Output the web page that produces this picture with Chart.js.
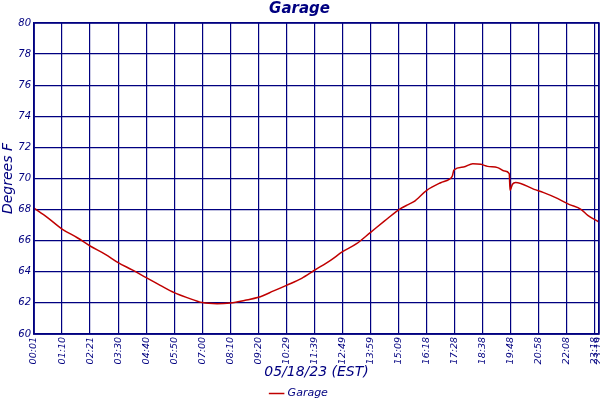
<!DOCTYPE html>
<html>
<head>
<meta charset="utf-8">
<script src="https://cdn.jsdelivr.net/npm/chart.js@4"></script>
<style>
    html, body { margin: 0; padding: 0; background: #fff; }
    #wrap { width: 600px; height: 400px; }
</style>
</head>
<body>
<div id="wrap"><canvas id="chart" width="600" height="400"></canvas></div>
<script>
// sample index (roughly minutes since 00:01) and temperature
const sampleIndex = [
    0, 33, 70, 108, 140, 178, 210, 245, 280, 315, 350, 382, 420, 457, 490,
    527, 560, 598, 630, 668, 700, 740, 770, 805, 840, 875, 910, 935, 948, 980,
    1015, 1036, 1044, 1048, 1072, 1095, 1115, 1132, 1157, 1174, 1186, 1188, 1194, 1202,
    1248, 1272, 1306, 1335, 1365, 1382, 1410
];
const garageTemps = [
    68.1, 67.5, 66.75, 66.19, 65.66, 65.12, 64.59, 64.12, 63.62, 63.13, 62.66, 62.34, 62.02, 61.95, 62.0,
    62.17, 62.36, 62.77, 63.13, 63.58, 64.1, 64.74, 65.29, 65.81, 66.54, 67.27, 67.99, 68.34, 68.51, 69.24,
    69.73, 69.95, 70.16, 70.55, 70.74, 70.95, 70.91, 70.78, 70.7, 70.48, 70.31, 69.24, 69.63, 69.75,
    69.3, 69.09, 68.72, 68.34, 68.02, 67.63, 67.2
];

// x tick positions and their time labels
const tickIndex = [0, 70, 140, 210, 280, 350, 420, 490, 560, 630, 700, 770, 840, 910, 980, 1050, 1120, 1190, 1260, 1330, 1400, 1410];
const tickLabels = ['00:01', '01:10', '02:21', '03:30', '04:40', '05:50', '07:00', '08:10', '09:20', '10:29', '11:39',
    '12:49', '13:59', '15:09', '16:18', '17:28', '18:38', '19:48', '20:58', '22:08', '23:18', '23:19'];

const navy = '#000080';
const lineRed = '#c00000';
const fontFamily = '"DejaVu Sans", sans-serif';

const points = sampleIndex.map((x, i) => ({ x: x, y: garageTemps[i] }));

const ctx = document.getElementById('chart').getContext('2d');
new Chart(ctx, {
    type: 'line',
    data: {
        datasets: [{
            label: 'Garage',
            data: points,
            borderColor: lineRed,
            backgroundColor: lineRed,
            borderWidth: 1.5,
            pointRadius: 0,
            cubicInterpolationMode: 'monotone',
            fill: false
        }]
    },
    options: {
        responsive: false,
        animation: false,
        layout: { padding: { left: 0, right: 1, top: 0, bottom: -9 } },
        plugins: {
            title: {
                display: true,
                text: 'Garage',
                color: navy,
                font: { family: fontFamily, size: 15, style: 'italic' },
                padding: { top: 0, bottom: 5 }
            },
            legend: {
                position: 'bottom',
                labels: {
                    color: navy,
                    font: { family: fontFamily, size: 11, style: 'italic' },
                    usePointStyle: true,
                    pointStyle: 'line',
                    boxWidth: 16,
                    padding: 2
                }
            },
            tooltip: { enabled: false }
        },
        scales: {
            x: {
                type: 'linear',
                min: 0,
                max: 1410,
                afterBuildTicks: (axis) => {
                    axis.ticks = tickIndex.map(v => ({ value: v }));
                },
                afterFit: (scale) => {
                    scale.paddingLeft = 0;
                    scale.paddingRight = 0;
                    scale.height = 52;
                },
                ticks: {
                    color: navy,
                    font: { family: fontFamily, size: 9.5, style: 'italic' },
                    minRotation: 90,
                    maxRotation: 90,
                    autoSkip: false,
                    padding: 3,
                    callback: (value) => {
                        const i = tickIndex.indexOf(value);
                        return i >= 0 ? tickLabels[i] : '';
                    }
                },
                grid: { color: navy, lineWidth: 1.2, drawTicks: false },
                border: { color: navy, width: 1.5 },
                title: {
                    display: true,
                    text: '05/18/23 (EST)',
                    color: navy,
                    font: { family: fontFamily, size: 14, style: 'italic' },
                    padding: { top: 0, bottom: 5 }
                }
            },
            y: {
                min: 60,
                max: 80,
                afterFit: (scale) => {
                    scale.width = 34;
                },
                ticks: {
                    stepSize: 2,
                    color: navy,
                    font: { family: fontFamily, size: 10, style: 'italic' },
                    padding: 3
                },
                grid: { color: navy, lineWidth: 1.2, drawTicks: false },
                border: { color: navy, width: 1.5 },
                title: {
                    display: true,
                    text: 'Degrees F',
                    color: navy,
                    font: { family: fontFamily, size: 14, style: 'italic' },
                    padding: { top: 0, bottom: 0 }
                }
            }
        }
    },
    plugins: [{
        id: 'plotBorder',
        afterDraw(chart) {
            const a = chart.chartArea;
            const c = chart.ctx;
            c.save();
            c.strokeStyle = navy;
            c.lineWidth = 1.5;
            c.strokeRect(a.left, a.top, a.right - a.left, a.bottom - a.top);
            c.restore();
        }
    }]
});
</script>
</body>
</html>
